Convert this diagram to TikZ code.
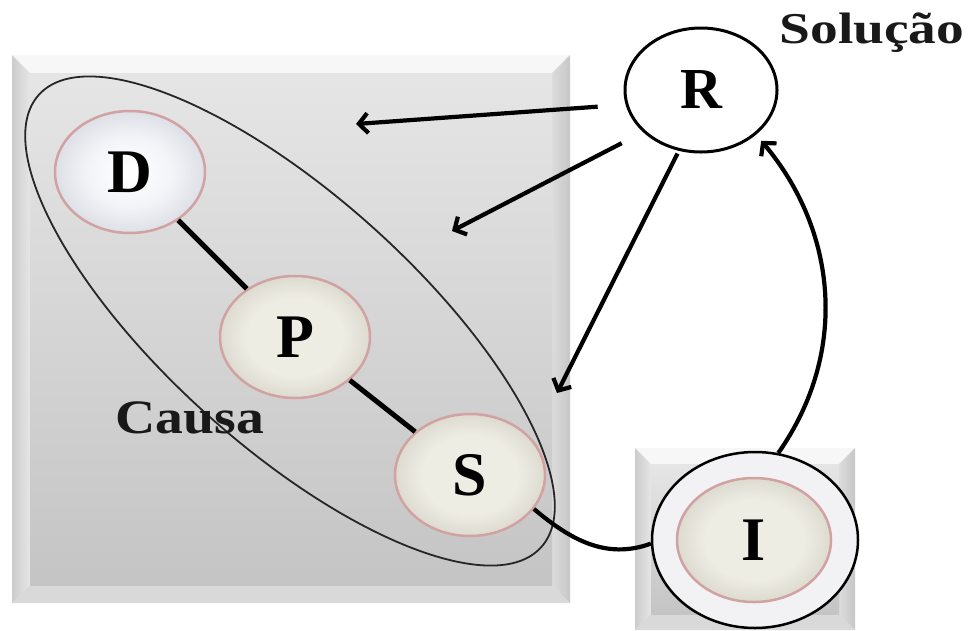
\documentclass[tikz,border=0pt]{standalone}
\usepackage{fontspec}
\setmainfont{Liberation Serif}
\usetikzlibrary{shapes.geometric,arrows.meta}

\definecolor{pinkRim}{HTML}{D2A2A2}
\definecolor{dMid}{HTML}{F2F4F8}
\definecolor{dEdge}{HTML}{AEB2BE}
\definecolor{pMid}{HTML}{EEEDE4}
\definecolor{pEdge}{HTML}{ADA998}
\definecolor{ringMid}{HTML}{F2F2F4}
\definecolor{ringEdge}{HTML}{D0D0D6}
\pgfdeclareradialshading{dShade}{\pgfpoint{0bp}{0bp}}%
  {color(0bp)=(white); color(14bp)=(dMid); color(50bp)=(dEdge); color(60bp)=(dEdge)}
\pgfdeclareradialshading{pShade}{\pgfpoint{0bp}{0bp}}%
  {color(0bp)=(pMid); color(16bp)=(pMid); color(50bp)=(pEdge); color(60bp)=(pEdge)}
\pgfdeclareradialshading{ringShade}{\pgfpoint{0bp}{0bp}}%
  {color(0bp)=(ringMid); color(36bp)=(ringMid); color(50bp)=(ringEdge); color(60bp)=(ringEdge)}

\begin{document}
\begin{tikzpicture}
[x=1pt,y=-1pt,
  causeNode/.style={ellipse,draw=pinkRim,line width=2.5pt,inner sep=0pt,
    minimum width=150pt,minimum height=122pt,shading=pShade,
    font=\fontsize{62}{62}\selectfont\bfseries},
  lineDecorate/.style={-,line width=5pt,black},
  arrowDecorate/.style={-{Straight Barb[length=9pt,width=20pt]},line width=4.2pt,black},
  labelText/.style={inner sep=0pt,anchor=base,text=black!90}]
\useasboundingbox (0,0) rectangle (972,630);
\foreach \xa/\ya/\xb/\yb/\bw in {12/55/570/603/18, 635/448/855/630/16}
{
  \fill[white!92!black] (\xa,\ya) rectangle (\xb,\yb);
  \fill[white!97!black] (\xa,\ya) -- (\xb,\ya) -- (\xb-\bw,\ya+\bw) -- (\xa+\bw,\ya+\bw) -- cycle;
  \shade[left color=white!80!black,right color=white!90!black]
    (\xa,\ya) -- (\xa+\bw,\ya+\bw) -- (\xa+\bw,\yb-\bw) -- (\xa,\yb) -- cycle;
  \shade[left color=white!86!black,right color=white!78!black]
    (\xb,\ya) -- (\xb-\bw,\ya+\bw) -- (\xb-\bw,\yb-\bw) -- (\xb,\yb) -- cycle;
  \fill[white!85!black] (\xa,\yb) -- (\xa+\bw,\yb-\bw) -- (\xb-\bw,\yb-\bw) -- (\xb,\yb) -- cycle;
  \shade[top color=white!90!black,bottom color=white!77!black]
    (\xa+\bw,\ya+\bw) rectangle (\xb-\bw,\yb-\bw);
}

\node[causeNode,shading=dShade] (D) at (130,172) {D};
\node[causeNode] (P) at (295,337) {P};
\node[causeNode] (S) at (470,475) {S};
\node[ellipse,draw,line width=3pt,fill=white,inner sep=0pt,minimum width=152pt,
  minimum height=124pt,font=\fontsize{58}{58}\selectfont\bfseries] (R) at (701,90) {R};
\node[ellipse,draw,line width=2.5pt,inner sep=0pt,minimum width=206pt,
  minimum height=176pt,shading=ringShade] (Iout) at (755,540) {};
\node[causeNode,minimum width=154pt,minimum height=124pt] (Iin) at (754,540) {I};

\draw[black!85,line width=1.8pt,rotate around={-42:(290,321)}]
  (290,321) ellipse (338 and 125);

\node[labelText,xscale=1.16,font=\fontsize{48}{48}\selectfont\bfseries] (causa) at (190,433) {Causa};
\node[labelText,xscale=1.26,font=\fontsize{44}{44}\selectfont\bfseries] (solucao) at (872,43) {Solução};

\draw[lineDecorate] (D) -- (P);
\draw[lineDecorate] (P) -- (S);
\draw[lineDecorate,line width=4.2pt] (S.-28) to[out=-40,in=200] (Iout.182);

\coordinate (tipA) at (356,124);
\coordinate (tipB) at (452,231);
\coordinate (tipC) at (557,393);
\foreach \startAngle/\endPoint/\gap in {191/tipA/28, 216/tipB/24, 250/tipC/3}
{
  \draw[arrowDecorate,shorten <=\gap pt] (R.\startAngle) -- (\endPoint);
}
\draw[arrowDecorate,shorten >=8pt] (Iout.75) to[out=55,in=-50] (R.-39);
\end{tikzpicture}
\end{document}
